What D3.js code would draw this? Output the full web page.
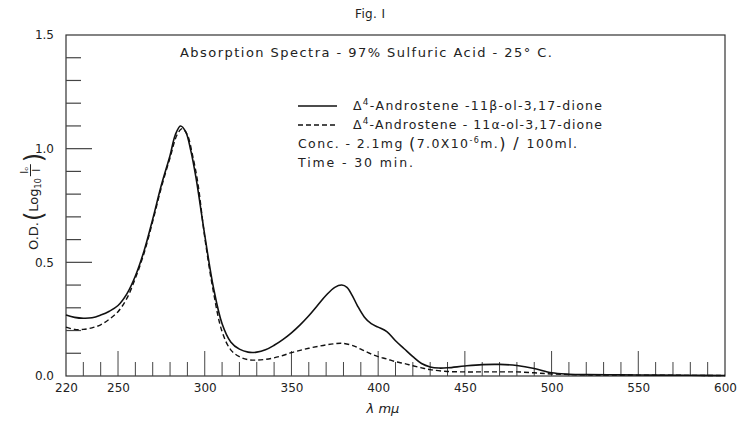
<!DOCTYPE html>
<html lang="en">
<head>
<meta charset="UTF-8">
<title>Fig. I - Absorption Spectra</title>
<script src="https://d3js.org/d3.v7.min.js"></script>
<style>
  body { margin: 0; background: #fff; }
  svg text { font-family: "DejaVu Sans", sans-serif; fill: #222; }
</style>
</head>
<body>
<div id="chart"></div>
<script>
    // wavelength (m mu) and optical density
    var betaWave = [220, 225, 230, 235, 240, 245, 250, 255, 260, 265, 270, 275, 280, 283, 286, 289, 292, 295,
        300, 305, 310, 315, 320, 325, 330, 335, 340, 345, 350, 355, 360, 365, 370, 375, 379, 382, 385, 388,
        392, 396, 400, 405, 410, 415, 420, 425, 430, 435, 440, 450, 460, 470, 480, 490, 500, 510, 520, 540,
        560, 580, 600];
    var betaOD = [0.268, 0.258, 0.254, 0.256, 0.268, 0.285, 0.31, 0.36, 0.44, 0.55, 0.69, 0.84, 0.97, 1.06, 1.10, 1.075, 0.99, 0.87,
        0.62, 0.39, 0.23, 0.15, 0.118, 0.105, 0.105, 0.115, 0.135, 0.16, 0.19, 0.225, 0.265, 0.31, 0.355, 0.39, 0.40, 0.39, 0.355, 0.31,
        0.26, 0.23, 0.215, 0.195, 0.155, 0.12, 0.085, 0.055, 0.04, 0.035, 0.036, 0.044, 0.05, 0.051, 0.046, 0.033, 0.014, 0.008, 0.006, 0.005,
        0.004, 0.003, 0.002];

    var alphaWave = [220, 225, 230, 235, 240, 245, 250, 255, 260, 265, 270, 275, 280, 284, 287, 290, 293, 296,
        300, 305, 310, 315, 320, 325, 330, 335, 340, 345, 350, 355, 360, 365, 370, 375, 379, 385, 390, 395,
        400, 405, 410, 415, 420, 425, 430, 440, 450, 460, 470, 480, 490, 500, 520, 550, 600];
    var alphaOD = [0.215, 0.205, 0.205, 0.212, 0.225, 0.25, 0.283, 0.34, 0.43, 0.54, 0.68, 0.83, 0.96, 1.06, 1.088, 1.06, 0.97, 0.85,
        0.61, 0.37, 0.195, 0.115, 0.085, 0.072, 0.07, 0.073, 0.08, 0.09, 0.103, 0.113, 0.122, 0.13, 0.137, 0.142, 0.144, 0.135, 0.118, 0.1,
        0.085, 0.075, 0.063, 0.055, 0.045, 0.036, 0.028, 0.02, 0.018, 0.018, 0.018, 0.018, 0.014, 0.009, 0.005, 0.004, 0.002];

    var xLabels = [220, 250, 300, 350, 400, 450, 500, 550, 600];
    var yLabels = [0.0, 0.5, 1.0, 1.5];
    var xMinor = d3.range(230, 600, 10);
    var yMinor = d3.range(1, 15).map(function(d) { return d / 10; });

    var width = 739, height = 422;

    var svg = d3.select("#chart")
        .append("svg")
            .attr("width", width)
            .attr("height", height);

    var x = d3.scaleLinear().domain([220, 600]).range([66, 725]);
    var y = d3.scaleLinear().domain([0, 1.5]).range([376, 35]);

    // frame
    svg.append("rect")
        .attr("x", x(220))
        .attr("y", y(1.5))
        .attr("width", x(600) - x(220))
        .attr("height", y(0) - y(1.5))
        .attr("fill", "none")
        .attr("stroke", "#333")
        .attr("stroke-width", 1.2);

    // minor ticks along bottom, taller every 50
    svg.append("g").selectAll("line")
        .data(xMinor)
        .enter()
        .append("line")
            .attr("x1", function(d) { return x(d); })
            .attr("x2", function(d) { return x(d); })
            .attr("y1", y(0))
            .attr("y2", function(d) { return y(0) - (d % 50 === 0 ? 25 : 14); })
            .attr("stroke", "#444")
            .attr("stroke-width", 1);

    // minor ticks along left side, longer at 0.5 and 1.0
    svg.append("g").selectAll("line")
        .data(yMinor)
        .enter()
        .append("line")
            .attr("x1", x(220))
            .attr("x2", function(d) { return x(220) + (Math.round(d * 10) % 5 === 0 ? 26 : 15); })
            .attr("y1", function(d) { return y(d); })
            .attr("y2", function(d) { return y(d); })
            .attr("stroke", "#444")
            .attr("stroke-width", 1.2);

    // tick labels
    var xAxis = svg.append("g")
        .attr("transform", "translate(0," + y(0) + ")")
        .call(d3.axisBottom(x).tickValues(xLabels).tickSize(0).tickPadding(7).tickFormat(d3.format("d")));
    xAxis.select(".domain").remove();
    xAxis.selectAll("text").style("font-size", "12px").style("font-family", "DejaVu Sans").attr("fill", "#222");

    var yAxis = svg.append("g")
        .attr("transform", "translate(" + x(220) + ",0)")
        .call(d3.axisLeft(y).tickValues(yLabels).tickSize(0).tickPadding(12).tickFormat(d3.format(".1f")));
    yAxis.select(".domain").remove();
    yAxis.selectAll("text").style("font-size", "12px").style("font-family", "DejaVu Sans").attr("fill", "#222");

    // curves
    var line = d3.line()
        .x(function(d) { return x(d[0]); })
        .y(function(d) { return y(d[1]); })
        .curve(d3.curveCatmullRom.alpha(0.5));

    svg.append("path")
        .datum(d3.zip(betaWave, betaOD))
        .attr("d", line)
        .attr("fill", "none")
        .attr("stroke", "#111")
        .attr("stroke-width", 1.6);

    svg.append("path")
        .datum(d3.zip(alphaWave, alphaOD))
        .attr("d", line)
        .attr("fill", "none")
        .attr("stroke", "#111")
        .attr("stroke-width", 1.4)
        .attr("stroke-dasharray", "5,3");

    // titles
    svg.append("text")
        .attr("x", 355)
        .attr("y", 18)
        .attr("textLength", 30)
        .style("font-size", "12px")
        .text("Fig. I");

    svg.append("text")
        .attr("x", 180)
        .attr("y", 57)
        .attr("textLength", 372)
        .style("font-size", "13px")
        .text("Absorption Spectra - 97% Sulfuric Acid - 25° C.");

    // legend
    var legendRows = [
        {dash: null, label: "-Androstene -11β-ol-3,17-dione", yy: 110},
        {dash: "5,3", label: "-Androstene - 11α-ol-3,17-dione", yy: 129}
    ];
    legendRows.forEach(function(r) {
        svg.append("line")
            .attr("x1", 298).attr("x2", 337)
            .attr("y1", r.yy - 4).attr("y2", r.yy - 4)
            .attr("stroke", "#111")
            .attr("stroke-width", 1.4)
            .attr("stroke-dasharray", r.dash);
        var t = svg.append("text")
            .attr("x", 353)
            .attr("y", r.yy)
            .attr("textLength", 249)
            .style("font-size", "12.5px");
        t.append("tspan").text("Δ");
        t.append("tspan").attr("dy", -5).style("font-size", "9px").text("4");
        t.append("tspan").attr("dy", 5).text(r.label);
    });

    var conc = svg.append("text")
        .attr("x", 298)
        .attr("y", 148)
        .attr("textLength", 279)
        .style("font-size", "12.5px");
    conc.append("tspan").text("Conc. - 2.1mg ");
    conc.append("tspan").style("font-size", "16px").attr("dy", 1).text("(");
    conc.append("tspan").attr("dy", -1).text("7.0X10");
    conc.append("tspan").attr("dy", -5).style("font-size", "8px").text("-6");
    conc.append("tspan").attr("dy", 5).text("m.");
    conc.append("tspan").style("font-size", "16px").attr("dy", 1).text(") / ");
    conc.append("tspan").attr("dy", -1).text("100ml.");

    svg.append("text")
        .attr("x", 298)
        .attr("y", 167)
        .attr("textLength", 115)
        .style("font-size", "12.5px")
        .text("Time - 30 min.");

    // y axis label, rotated, with fraction Io/I
    var yl = svg.append("g")
        .attr("transform", "translate(38,200) rotate(-90)");
    var pos = -50;
    function piece(str, size, dy) {
        var t = yl.append("text")
            .attr("x", pos)
            .attr("y", dy)
            .style("font-size", size + "px")
            .text(str);
        pos += t.node().getComputedTextLength();
        return t;
    }
    piece("O.D.", 13, 0);
    pos += 1;
    piece("(", 24, 4);
    piece("Log", 13, 0);
    piece("10", 8, 3);
    pos += 2;
    var fx = pos;
    yl.append("text").attr("x", fx + 6).attr("y", -10).attr("text-anchor", "middle")
        .style("font-size", "10px").text("I\u2092");
    yl.append("line").attr("x1", fx).attr("x2", fx + 12).attr("y1", -7.5).attr("y2", -7.5)
        .attr("stroke", "#222").attr("stroke-width", 1);
    yl.append("text").attr("x", fx + 6).attr("y", 2).attr("text-anchor", "middle")
        .style("font-size", "10px").text("I");
    pos = fx + 14;
    piece(")", 24, 4);

    // x axis label
    svg.append("text")
        .attr("x", 383)
        .attr("y", 413)
        .attr("text-anchor", "middle")
        .style("font-size", "13px")
        .style("font-style", "italic")
        .text("λ mμ");
</script>
</body>
</html>
